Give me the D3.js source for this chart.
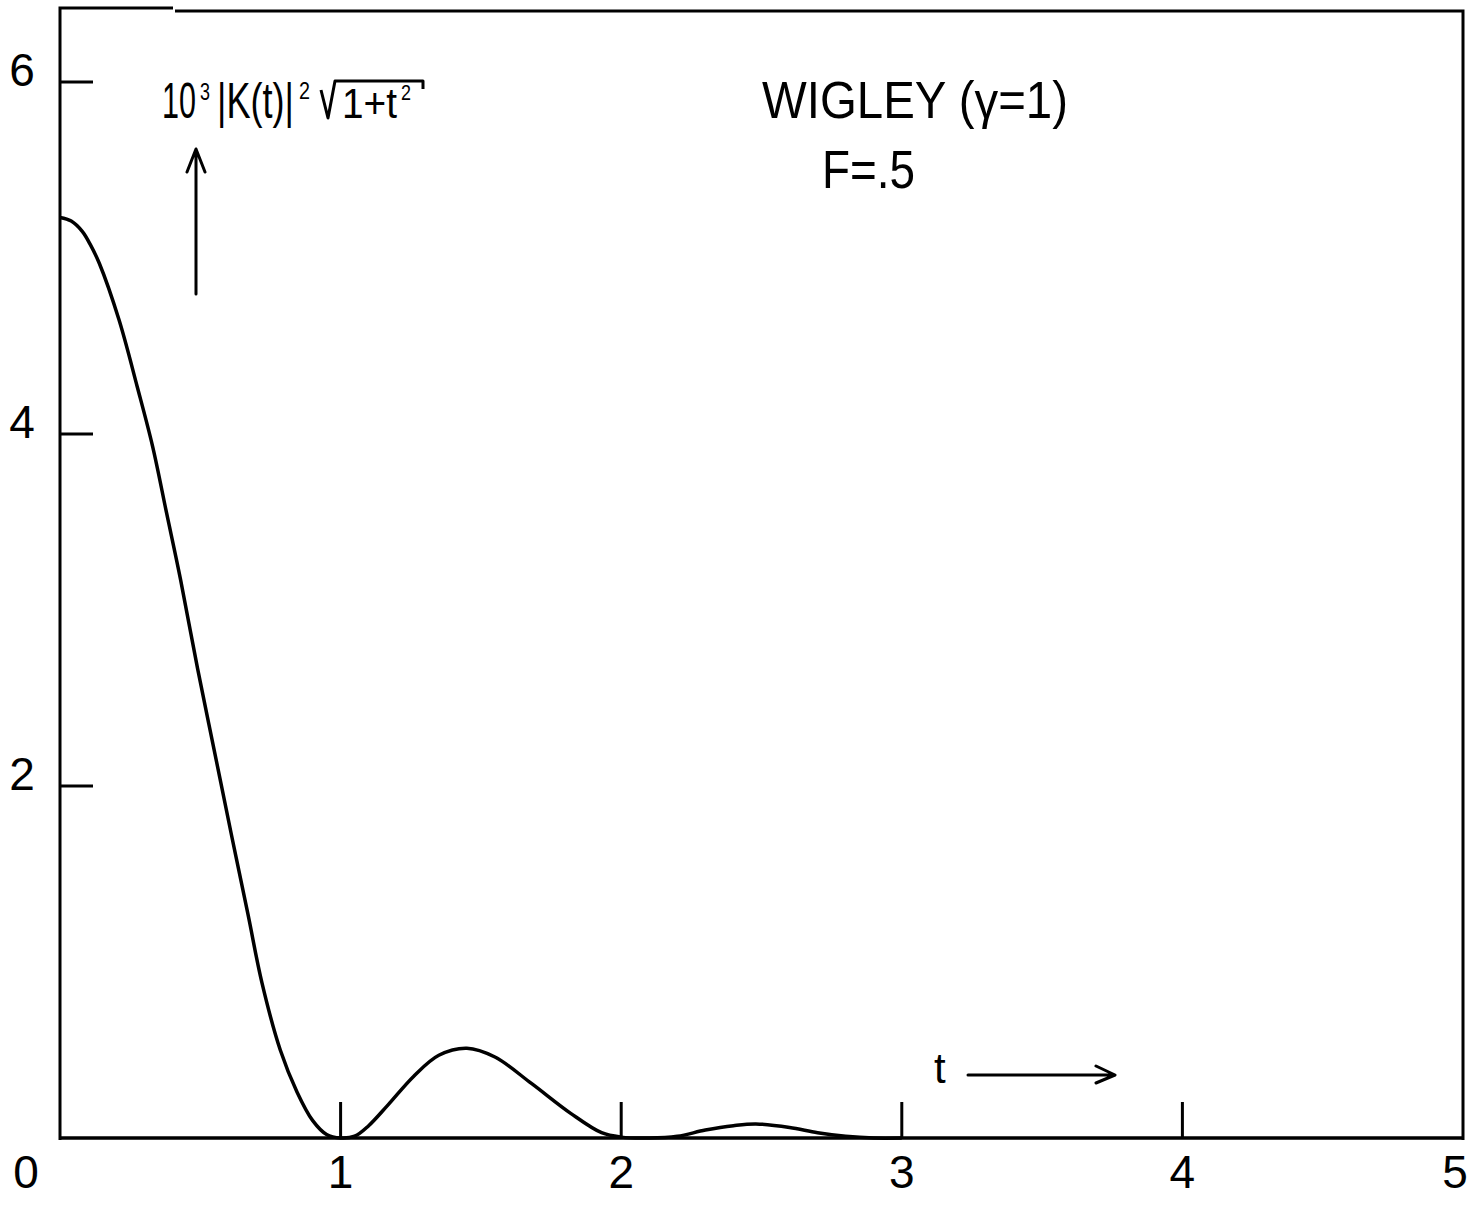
<!DOCTYPE html>
<html>
<head>
<meta charset="utf-8">
<script src="https://cdn.jsdelivr.net/npm/d3@7"></script>
<style>
  body { margin: 0; background: #fff; }
  text { font-family: "Liberation Sans", "DejaVu Sans", sans-serif; fill: #000; }
</style>
</head>
<body>
<div id="chart"></div>
<script>
// values
var t_values = [0, 0.04, 0.08, 0.11, 0.14, 0.21, 0.275, 0.33, 0.38, 0.43, 0.49, 0.55, 0.61, 0.67, 0.72, 0.785,
  0.845, 0.9, 0.95, 1.0, 1.05, 1.1, 1.17, 1.26, 1.35, 1.45, 1.55, 1.68, 1.82, 1.93, 2.0, 2.1,
  2.2, 2.3, 2.4, 2.48, 2.6, 2.7, 2.8, 2.9, 3.0];
var k_values = [5.23, 5.21, 5.15, 5.07, 4.97, 4.65, 4.27, 3.93, 3.55, 3.17, 2.67, 2.20, 1.73, 1.27, 0.88, 0.50,
  0.26, 0.10, 0.02, 0.0, 0.01, 0.07, 0.19, 0.35, 0.47, 0.51, 0.46, 0.31, 0.14, 0.03, 0.005, 0.0,
  0.01, 0.045, 0.07, 0.08, 0.06, 0.03, 0.01, 0.0, 0.0];
var x_ticks = [1, 2, 3, 4];
var x_labels = [0, 1, 2, 3, 4, 5];
var y_ticks = [2, 4, 6];

var width = 1472, height = 1209;

var svg = d3.select("#chart").append("svg")
  .attr("width", width)
  .attr("height", height);

var x = d3.scaleLinear().domain([0, 5]).range([60, 1463]);
var y = d3.scaleLinear().domain([0, 6]).range([1138, 82]);

// frame (top line has a small step, as drawn)
svg.append("path")
  .attr("d", "M" + x(0) + ",1140 V8 H173 M175,11 H" + x(5) + " V1140")
  .attr("fill", "none")
  .attr("stroke", "#000")
  .attr("stroke-width", 3);
svg.append("line")
  .attr("x1", x(0)).attr("x2", x(5))
  .attr("y1", y(0)).attr("y2", y(0))
  .attr("stroke", "#000")
  .attr("stroke-width", 3.5);

// ticks
svg.selectAll(".xtick").data(x_ticks).enter().append("line")
  .attr("x1", d => x(d)).attr("x2", d => x(d))
  .attr("y1", y(0)).attr("y2", y(0) - 36)
  .attr("stroke", "#000").attr("stroke-width", 3);
svg.selectAll(".ytick").data(y_ticks).enter().append("line")
  .attr("x1", x(0)).attr("x2", x(0) + 33)
  .attr("y1", d => y(d)).attr("y2", d => y(d))
  .attr("stroke", "#000").attr("stroke-width", 3);

// tick labels
svg.selectAll(".xlab").data(x_labels).enter().append("text")
  .attr("x", d => d == 0 ? x(0) - 34 : (d == 5 ? x(5) - 8 : x(d)))
  .attr("y", 1188)
  .attr("text-anchor", "middle")
  .style("font-size", "46px")
  .text(d => d);
svg.selectAll(".ylab").data(y_ticks).enter().append("text")
  .attr("x", 22)
  .attr("y", d => y(d) + 4)
  .attr("text-anchor", "middle")
  .style("font-size", "46px")
  .text(d => d);

// curve
var line = d3.line()
  .x(d => x(d[0]))
  .y(d => Math.min(y(d[1]), y(0)))
  .curve(d3.curveCatmullRom.alpha(0.5));
svg.append("path")
  .datum(t_values.map((t, i) => [t, k_values[i]]))
  .attr("d", line)
  .attr("fill", "none")
  .attr("stroke", "#000")
  .attr("stroke-width", 3.5)
  .attr("stroke-linejoin", "round");

// y label : 10^3 |K(t)|^2 sqrt(1+t^2), pieces placed one by one,
// squeezed horizontally to the narrow hand lettering
function piece(txt, px, py, len, size) {
  var t = svg.append("text")
    .style("font-size", size + "px")
    .text(txt);
  var w = t.node().getComputedTextLength();
  t.attr("transform", "translate(" + px + "," + py + ") scale(" + (len / w) + ",1)");
}
piece("10", 162, 118, 34, 50);
piece("3", 200, 100, 10, 24);
piece("|K(t)|", 217, 118, 77, 50);
piece("2", 299, 99, 11, 24);
svg.append("path")
  .attr("d", "M321,90 L328,118 L335,81 H423 V89")
  .attr("fill", "none").attr("stroke", "#000").attr("stroke-width", 3)
  .attr("stroke-linejoin", "round");
piece("1+t", 342, 118, 55, 42);
piece("2", 401, 100, 10, 22);

// up arrow
svg.append("path")
  .attr("d", "M196,294 V150 M187,172 L196,149 L205,172")
  .attr("fill", "none").attr("stroke", "#000").attr("stroke-width", 3)
  .attr("stroke-linejoin", "round").attr("stroke-linecap", "round");

// titles
svg.append("text")
  .attr("x", 762).attr("y", 118)
  .attr("textLength", 306)
  .attr("lengthAdjust", "spacingAndGlyphs")
  .style("font-size", "52px")
  .text("WIGLEY (γ=1)");
svg.append("text")
  .attr("x", 822).attr("y", 188)
  .attr("textLength", 93)
  .attr("lengthAdjust", "spacingAndGlyphs")
  .style("font-size", "54px")
  .text("F=.5");

// t arrow
svg.append("text")
  .attr("x", 934).attr("y", 1083)
  .style("font-size", "42px")
  .text("t");
svg.append("path")
  .attr("d", "M968,1075 H1113 M1096,1066 L1115,1075 L1096,1083")
  .attr("fill", "none").attr("stroke", "#000").attr("stroke-width", 3)
  .attr("stroke-linejoin", "round").attr("stroke-linecap", "round");
</script>
</body>
</html>
